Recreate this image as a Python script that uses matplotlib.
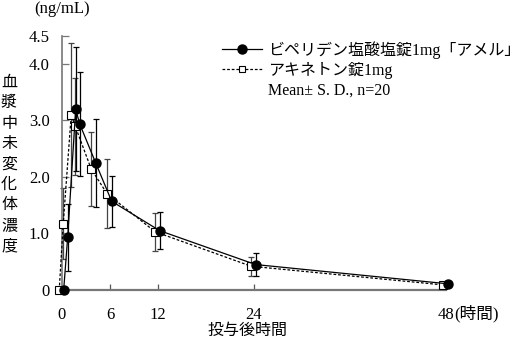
import matplotlib
matplotlib.use('Agg')
import matplotlib.pyplot as plt
import matplotlib.transforms as mtransforms
from matplotlib.font_manager import FontProperties
from matplotlib.lines import Line2D

# 投与後時間 (h)
times = [0, 0.5, 1.5, 2, 4, 6, 12, 24, 48]

# ビペリデン塩酸塩錠1mg「アメル」
test_mean = [0, 0.93, 3.20, 2.94, 2.25, 1.57, 1.05, 0.45, 0.11]
test_sd = [0, 0.59, 1.10, 0.92, 0.78, 0.45, 0.33, 0.20, 0.03]

# アキネトン錠1mg
ref_mean = [0, 1.17, 3.10, 2.90, 2.14, 1.70, 1.03, 0.42, 0.09]
ref_sd = [0, 0.63, 1.27, 0.86, 0.66, 0.61, 0.34, 0.17, 0.03]

test_label = 'ビペリデン塩酸塩錠1mg「アメル」'
ref_label = 'アキネトン錠1mg'
note_label = 'Mean± S. D., n=20'

xticks = [0, 6, 12, 24, 48]
xticklabels = ['0', '6', '12', '24', '48']
yticks = [0, 1, 2, 3, 4, 4.5]
yticklabels = ['0', '1.0', '2.0', '3.0', '4.0', '4.5']

ylabel_text = '血漿中未変化体濃度'

serif = ['Liberation Serif', 'Noto Sans CJK JP']
cjk = ['Noto Sans CJK JP', 'DejaVu Sans']

W, H = 528, 347
fig = plt.figure(figsize=(W / 100, H / 100), dpi=100)
ax = fig.add_axes([62 / W, 1 - 290 / H, (446 - 62) / W, (290 - 35.7) / H])

# small horizontal offsets so the two series don't sit on top of each other
off_ref = ax.transData + mtransforms.ScaledTranslation(-2.0 / 72, 0, fig.dpi_scale_trans)
off_test = ax.transData + mtransforms.ScaledTranslation(1.2 / 72, 0, fig.dpi_scale_trans)

ax.errorbar(times, ref_mean, yerr=ref_sd, fmt='none', ecolor='#444444',
            elinewidth=0.9, capsize=2.5, capthick=0.9, transform=off_ref, clip_on=False)
ax.plot(times, ref_mean, linestyle=(0, (2.2, 1.5)), color='black', lw=0.9,
        marker='s', markersize=6, markerfacecolor='white', markeredgecolor='black',
        markeredgewidth=0.8, transform=off_ref, clip_on=False, zorder=3)

ax.errorbar(times, test_mean, yerr=test_sd, fmt='none', ecolor='black',
            elinewidth=0.9, capsize=2.5, capthick=0.9, transform=off_test, clip_on=False)
ax.plot(times, test_mean, linestyle='-', color='black', lw=0.9,
        marker='o', markersize=6.5, markerfacecolor='black', markeredgecolor='black',
        transform=off_test, clip_on=False, zorder=4)

ax.set_xlim(0, 48)
ax.set_ylim(0, 4.5)
for s in ['top', 'right']:
    ax.spines[s].set_visible(False)
ax.spines['left'].set_color('#777777')
ax.spines['left'].set_linewidth(1.2)
ax.spines['bottom'].set_color('#777777')
ax.spines['bottom'].set_linewidth(1.6)

ax.set_xticks(xticks)
ax.set_xticklabels(xticklabels, fontfamily=serif, fontsize=12)
ax.set_yticks(yticks)
ax.set_yticklabels(yticklabels, fontfamily=serif, fontsize=12)
ax.tick_params(axis='y', direction='in', length=5, width=0.9, color='#777777', pad=9)
ax.tick_params(axis='x', direction='in', length=4, width=0.9, color='#555555', pad=12)
ax.xaxis.get_major_ticks()[0].tick1line.set_visible(False)
ax.xaxis.get_major_ticks()[-1].tick1line.set_visible(False)

# unit labels
fig.text(62 / W, 1 - 9 / H, '(ng/mL)', fontfamily=serif, fontsize=12, ha='center', va='center')
ax.annotate('(時間)', xy=(48, 0), xycoords='data', xytext=(6, -17), textcoords='offset points',
            ha='left', va='center', fontfamily=serif, fontsize=12, annotation_clip=False)

# vertical y label, one character per line
y0, step = 82.5, 20.4
for i, ch in enumerate(ylabel_text):
    fig.text(9 / W, 1 - (y0 + i * step) / H, ch, fontfamily=cjk, fontsize=11.5,
             ha='center', va='center')

fig.text(247 / W, 1 - 330 / H, '投与後時間', fontfamily=cjk, fontsize=11.5, ha='center', va='center')

handles = [
    Line2D([], [], color='black', lw=0.9, marker='o', markersize=6.5),
    Line2D([], [], color='black', lw=0.9, linestyle=(0, (2.2, 1.5)), marker='s', markersize=5,
           markerfacecolor='white', markeredgewidth=0.8),
    Line2D([], [], linestyle='none'),
]
leg = ax.legend(handles, [test_label, ref_label, note_label], loc='upper left',
                bbox_to_anchor=(222 / W, 1 - 41 / H), bbox_transform=fig.transFigure,
                frameon=False, prop=FontProperties(family=serif, size=11.5),
                handlelength=2.5, handletextpad=0.4, labelspacing=0.2, borderpad=0,
                borderaxespad=0)

fig.savefig('out.png', dpi=100)
